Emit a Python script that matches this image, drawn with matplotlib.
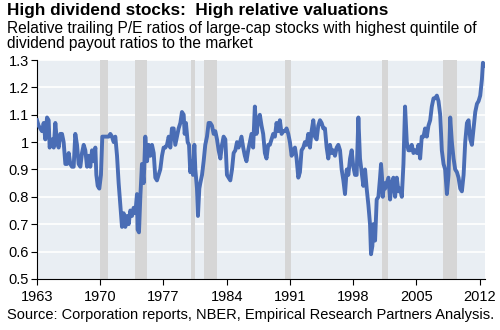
import matplotlib
matplotlib.use("Agg")
import matplotlib.pyplot as plt

# relative trailing P/E (decimal years)
years = [
    1963.00, 1963.18, 1963.55, 1963.74, 1963.92, 1964.11, 1964.29, 1964.40, 1964.66, 1964.85,
    1965.03, 1965.21, 1965.40, 1965.58, 1965.77, 1965.95, 1966.14, 1966.32, 1966.51, 1966.69,
    1966.87, 1967.06, 1967.24, 1967.43, 1967.61, 1967.80, 1967.98, 1968.17, 1968.35, 1968.54,
    1968.72, 1968.90, 1969.09, 1969.27, 1969.46, 1969.57, 1969.72, 1969.90, 1970.08, 1970.23,
    1970.56, 1970.93, 1971.12, 1971.30, 1971.49, 1971.67, 1971.86, 1972.04, 1972.23, 1972.41,
    1972.59, 1972.78, 1972.96, 1973.15, 1973.33, 1973.52, 1973.70, 1973.89, 1974.07, 1974.14,
    1974.29, 1974.44, 1974.62, 1974.81, 1974.99, 1975.18, 1975.36, 1975.55, 1975.73, 1975.92,
    1976.10, 1976.28, 1976.47, 1976.65, 1976.84, 1977.02, 1977.21, 1977.39, 1977.58, 1977.76,
    1977.94, 1978.13, 1978.31, 1978.50, 1978.68, 1978.87, 1979.05, 1979.24, 1979.35, 1979.49,
    1979.68, 1979.83, 1979.97, 1980.12, 1980.27, 1980.42, 1980.53, 1980.71, 1980.82, 1980.97,
    1981.08, 1981.27, 1981.45, 1981.63, 1981.82, 1982.00, 1982.19, 1982.37, 1982.56, 1982.74,
    1982.93, 1983.11, 1983.30, 1983.48, 1983.66, 1983.85, 1984.03, 1984.22, 1984.40, 1984.59,
    1984.77, 1984.96, 1985.14, 1985.32, 1985.64, 1985.83, 1986.01, 1986.19, 1986.38, 1986.56,
    1986.75, 1986.93, 1987.12, 1987.30, 1987.49, 1987.67, 1987.86, 1988.04, 1988.23, 1988.41,
    1988.60, 1988.78, 1988.97, 1989.15, 1989.34, 1989.52, 1989.71, 1989.89, 1990.08, 1990.26,
    1990.45, 1990.63, 1990.82, 1991.00, 1991.19, 1991.37, 1991.56, 1991.74, 1991.93, 1992.11,
    1992.29, 1992.48, 1992.66, 1992.85, 1993.03, 1993.22, 1993.40, 1993.59, 1993.77, 1993.96,
    1994.14, 1994.33, 1994.51, 1994.70, 1994.88, 1995.07, 1995.25, 1995.44, 1995.62, 1995.81,
    1995.99, 1996.18, 1996.36, 1996.55, 1996.73, 1996.92, 1997.10, 1997.29, 1997.47, 1997.66,
    1997.84, 1998.02, 1998.21, 1998.39, 1998.58, 1998.76, 1998.95, 1999.13, 1999.32, 1999.50,
    1999.69, 1999.87, 1999.98, 2000.13, 2000.24, 2000.43, 2000.61, 2000.80, 2000.98, 2001.09,
    2001.20, 2001.28, 2001.43, 2001.54, 2001.72, 2001.91, 2002.09, 2002.28, 2002.46, 2002.65,
    2002.83, 2003.02, 2003.20, 2003.39, 2003.57, 2003.75, 2003.94, 2004.12, 2004.31, 2004.49,
    2004.68, 2004.86, 2005.05, 2005.23, 2005.42, 2005.60, 2005.79, 2005.97, 2006.16, 2006.34,
    2006.53, 2006.71, 2006.90, 2007.08, 2007.27, 2007.45, 2007.64, 2007.82, 2008.01, 2008.19,
    2008.38, 2008.56, 2008.75, 2008.93, 2009.12, 2009.30, 2009.49, 2009.67, 2009.86, 2010.04,
    2010.23, 2010.41, 2010.60, 2010.78, 2010.97, 2011.15, 2011.34, 2011.52, 2011.71, 2011.89,
    2012.07, 2012.26, 2012.37, 2012.55,
]
rel_pe = [
    1.08, 1.06, 1.04, 1.07, 1.01, 1.09, 1.08, 0.98, 1.01, 0.98,
    1.07, 1.00, 0.98, 1.03, 1.03, 1.00, 0.92, 0.92, 0.96, 0.92,
    0.91, 0.91, 1.03, 0.99, 0.92, 0.91, 0.96, 0.99, 0.97, 0.91,
    0.95, 0.91, 0.97, 0.93, 0.98, 0.88, 0.84, 0.83, 0.88, 1.02,
    1.02, 1.02, 1.03, 1.02, 1.00, 1.02, 0.95, 0.85, 0.77, 0.69,
    0.74, 0.69, 0.73, 0.70, 0.75, 0.73, 0.76, 0.74, 0.81, 0.68,
    0.67, 0.80, 0.92, 0.85, 1.02, 0.93, 0.99, 0.95, 0.99, 0.96,
    0.87, 0.86, 0.88, 0.90, 0.95, 0.98, 0.98, 0.99, 1.02, 0.98,
    1.05, 1.05, 0.99, 1.02, 1.05, 1.07, 1.11, 1.10, 1.03, 1.07,
    1.00, 0.99, 0.89, 0.93, 0.88, 0.99, 0.90, 0.83, 0.73, 0.83,
    0.85, 0.88, 0.93, 0.99, 1.02, 1.07, 1.07, 1.06, 1.03, 1.04,
    1.01, 0.97, 0.94, 0.99, 1.02, 1.01, 0.88, 0.87, 0.86, 0.90,
    0.96, 0.97, 1.00, 0.98, 1.02, 0.98, 0.95, 0.93, 0.97, 1.00,
    1.03, 0.98, 1.13, 1.03, 1.08, 1.10, 1.06, 1.03, 0.96, 0.94,
    0.99, 0.99, 1.01, 1.03, 1.02, 1.07, 1.04, 1.08, 1.03, 1.04,
    1.04, 1.05, 1.03, 1.00, 0.95, 0.97, 0.98, 0.94, 0.87, 0.89,
    0.97, 0.98, 1.00, 0.99, 1.03, 0.98, 1.04, 1.08, 1.02, 1.01,
    1.06, 1.08, 1.07, 1.05, 1.05, 0.98, 0.94, 0.99, 0.96, 0.97,
    0.95, 0.98, 0.99, 0.97, 0.90, 0.86, 0.81, 0.90, 0.88, 0.94,
    0.97, 0.91, 0.88, 0.88, 1.09, 0.94, 0.89, 0.84, 0.90, 0.83,
    0.77, 0.70, 0.59, 0.62, 0.70, 0.64, 0.79, 0.80, 0.87, 0.92,
    0.87, 0.80, 0.85, 0.83, 0.85, 0.87, 0.79, 0.85, 0.87, 0.80,
    0.87, 0.82, 0.83, 0.80, 0.92, 1.13, 1.00, 0.97, 0.97, 0.99,
    0.96, 0.97, 0.96, 0.99, 0.94, 1.02, 1.02, 1.05, 1.02, 1.06,
    1.08, 1.13, 1.16, 1.16, 1.17, 1.15, 1.10, 0.97, 0.92, 0.90,
    0.81, 0.88, 1.09, 1.00, 0.94, 0.90, 0.89, 0.87, 0.83, 0.82,
    0.88, 1.00, 1.07, 1.08, 1.01, 0.99, 1.05, 1.11, 1.14, 1.15,
    1.17, 1.23, 1.29, 1.28,
]

# NBER recessions (start, end)
recessions = [
    (1969.92, 1970.88), (1973.84, 1975.17), (1980.0, 1980.5), (1981.5, 1982.88),
    (1990.5, 1991.17), (2001.17, 2001.88), (2007.92, 2009.5),
]

tick_years = [1963, 1970, 1977, 1984, 1991, 1998, 2005, 2012]
y_ticks = [0.5, 0.6, 0.7, 0.8, 0.9, 1.0, 1.1, 1.2, 1.3]
y_labels = ["0.5", "0.6", "0.7", "0.8", "0.9", "1", "1.1", "1.2", "1.3"]

plt.rcParams["font.family"] = ["Liberation Sans", "DejaVu Sans"]

fig = plt.figure(figsize=(5, 3.3), dpi=100)
ax = fig.add_axes([0.074, 0.155, 0.896, 0.663])
ax.set_facecolor("#e9eef3")

for start, end in recessions:
    ax.axvspan(start, end, color="#d6d6d6", lw=0, zorder=1)

for y in y_ticks[1:]:
    ax.axhline(y, color="white", lw=1.2, zorder=0.5)

ax.plot(years, rel_pe, color="#4a6db5", lw=2.8, solid_joinstyle="round", zorder=3)

ax.set_xlim(1963, 2012.6)
ax.set_ylim(0.5, 1.3)
ax.set_xticks(tick_years)
ax.set_xticklabels([str(y) for y in tick_years], fontsize=10.5)
ax.set_yticks(y_ticks)
ax.set_yticklabels(y_labels, fontsize=10.5)
ax.tick_params(direction="out", length=4, width=0.8, color="black", pad=2)
ax.tick_params(axis="x", pad=4)

for side in ["top", "right"]:
    ax.spines[side].set_visible(False)
for side in ["left", "bottom"]:
    ax.spines[side].set_color("black")
    ax.spines[side].set_linewidth(0.8)

fig.text(0.014, 0.99, "High dividend stocks:  High relative valuations",
         fontsize=12.3, fontweight="bold", va="top", ha="left")
fig.text(0.014, 0.935, "Relative trailing P/E ratios of large-cap stocks with highest quintile of\n"
         "dividend payout ratios to the market",
         fontsize=11.2, va="top", ha="left", linespacing=0.95)
fig.text(0.014, 0.025, "Source: Corporation reports, NBER, Empirical Research Partners Analysis.",
         fontsize=10.5, va="bottom", ha="left")

fig.savefig("out.png", dpi=100)
